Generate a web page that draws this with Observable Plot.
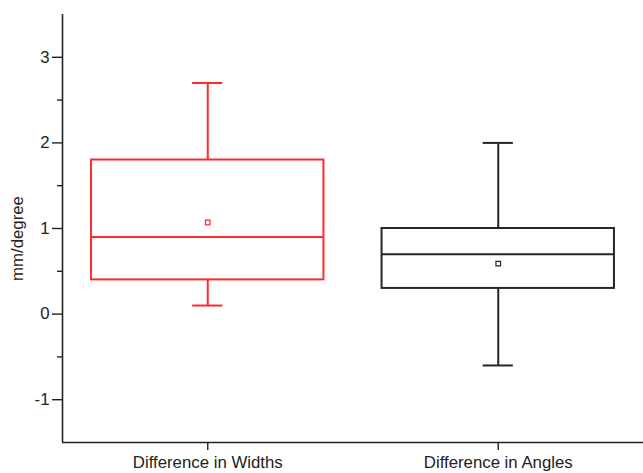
<!DOCTYPE html>
<html>
<head>
<meta charset="utf-8">
<script src="https://cdn.jsdelivr.net/npm/d3@7"></script>
<script src="https://cdn.jsdelivr.net/npm/@observablehq/plot@0.6"></script>
<style>
  html, body { margin: 0; padding: 0; background: #fff; }
  svg { display: block; }
</style>
</head>
<body>
<div id="chart"></div>
<script>
const categories = ["Difference in Widths", "Difference in Angles"];
const mins    = [0.1, -0.6];
const q1s     = [0.4, 0.3];
const medians = [0.9, 0.7];
const q3s     = [1.8, 1.0];
const maxs    = [2.7, 2.0];
const means   = [1.07, 0.59];
const majorTicks = [-1, 0, 1, 2, 3];
const minorTicks = [-0.5, 0.5, 1.5, 2.5];
const yTitle = "mm/degree";

const colors = ["#ff2a2a", "#262626"];
const boxHalf = 0.4, capHalf = 0.052;

const rows = categories.map((c, i) => ({
  cat: c, pos: i + 1,
  min: mins[i], q1: q1s[i], median: medians[i], q3: q3s[i], max: maxs[i], mean: means[i]
}));

const font = "'Liberation Sans', Arial, sans-serif";
const ink = "#222";
const fs = 16.8;

const chart = Plot.plot({
  width: 643,
  height: 473,
  marginLeft: 62,
  marginRight: 0,
  marginTop: 14,
  marginBottom: 31,
  style: { fontFamily: font, fontSize: fs + "px", color: ink, background: "#fff" },
  x: { domain: [0.5, 2.5], axis: null },
  y: { domain: [-1.5, 3.5], axis: null },
  color: { domain: categories, range: colors },
  marks: [
    // axes lines
    Plot.ruleX([0.5], { y1: -1.5, y2: 3.5, stroke: ink, strokeWidth: 1.6 }),
    Plot.ruleY([-1.5], { x1: 0.5, x2: 2.5, stroke: ink, strokeWidth: 1.6 }),
    // y axis ticks + labels
    Plot.axisY({ ticks: majorTicks, tickSize: 10, tickPadding: 3, tickFormat: d => String(d), label: null, fontSize: fs, stroke: ink, strokeWidth: 1.4, fill: ink }),
    Plot.axisY({ ticks: minorTicks, tickSize: 5, tickFormat: () => "", label: null, stroke: ink, strokeWidth: 1.4 }),
    // x axis ticks + labels
    Plot.axisX({ ticks: rows.map(r => r.pos), tickSize: 8, tickPadding: 6, tickFormat: d => categories[d - 1], label: null, fontSize: fs, stroke: ink, strokeWidth: 1.4, fill: ink }),
    // y title
    Plot.text([yTitle], { frameAnchor: "left", text: d => d, rotate: -90, textAnchor: "middle", dx: -45, dy: 10, fontSize: fs, fill: ink }),
    // whiskers
    Plot.ruleX(rows, { x: "pos", y1: "q3", y2: "max", stroke: "cat", strokeWidth: 2 }),
    Plot.ruleX(rows, { x: "pos", y1: "min", y2: "q1", stroke: "cat", strokeWidth: 2 }),
    // caps
    Plot.ruleY(rows, { y: "max", x1: d => d.pos - capHalf, x2: d => d.pos + capHalf, stroke: "cat", strokeWidth: 2 }),
    Plot.ruleY(rows, { y: "min", x1: d => d.pos - capHalf, x2: d => d.pos + capHalf, stroke: "cat", strokeWidth: 2 }),
    // boxes
    Plot.rect(rows, { x1: d => d.pos - boxHalf, x2: d => d.pos + boxHalf, y1: "q1", y2: "q3", fill: "none", stroke: "cat", strokeWidth: 2 }),
    // medians
    Plot.ruleY(rows, { y: "median", x1: d => d.pos - boxHalf, x2: d => d.pos + boxHalf, stroke: "cat", strokeWidth: 2 }),
    // means
    Plot.dot(rows, { x: "pos", y: "mean", symbol: "square", r: 2.6, stroke: "cat", strokeWidth: 1.2, fill: "#fff" })
  ]
});
document.getElementById("chart").appendChild(chart);
</script>
</body>
</html>
